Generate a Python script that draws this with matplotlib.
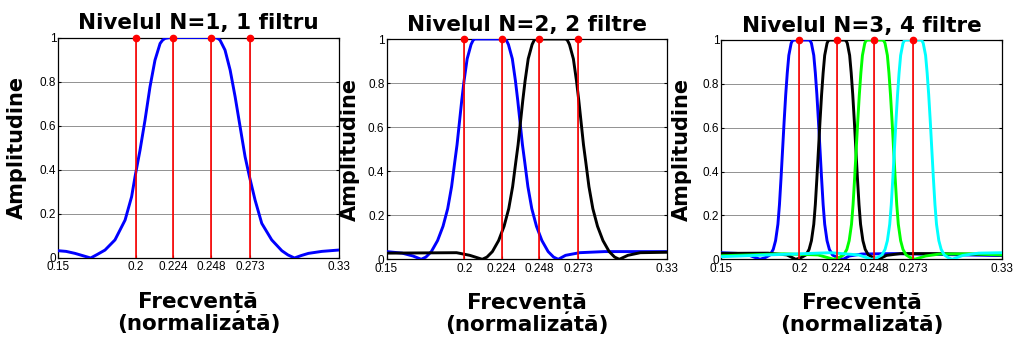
import matplotlib
matplotlib.use("Agg")
import matplotlib.pyplot as plt

# ---------------- data ----------------
titles = ["Nivelul N=1, 1 filtru", "Nivelul N=2, 2 filtre", "Nivelul N=3, 4 filtre"]
x_ticks = [0.15, 0.2, 0.224, 0.248, 0.273, 0.33]
x_tick_labels = ["0.15", "0.2", "0.224", "0.248", "0.273", "0.33"]
y_ticks = [0, 0.2, 0.4, 0.6, 0.8, 1.0]
y_tick_labels = ["0", "0.2", "0.4", "0.6", "0.8", "1"]
center_freqs = [0.2, 0.224, 0.248, 0.273]
center_amps = [1, 1, 1, 1]

# Level 1 - single filter (blue)
p1_blue_x = [0.150, 0.155, 0.1607, 0.166, 0.1708, 0.175, 0.180, 0.1864, 0.1929, 0.1971,
             0.1993, 0.2025, 0.2057, 0.2089, 0.2121, 0.2154, 0.2170, 0.2186, 0.2218, 0.2507,
             0.2525, 0.2539, 0.2571, 0.2604, 0.2636, 0.2668, 0.2700, 0.2728, 0.2764, 0.2807,
             0.2871, 0.2936, 0.2975, 0.3017, 0.3060, 0.3107, 0.3193, 0.330]
p1_blue_y = [0.033, 0.030, 0.021, 0.010, 0.000, 0.016, 0.036, 0.082, 0.172, 0.278,
             0.369, 0.489, 0.625, 0.776, 0.897, 0.973, 0.988, 0.996, 1.000, 1.000,
             0.996, 0.988, 0.943, 0.852, 0.731, 0.595, 0.459, 0.369, 0.263, 0.157,
             0.082, 0.033, 0.014, 0.000, 0.011, 0.021, 0.030, 0.036]

# Level 2 - two filters (blue, black)
p2_blue_x = [0.150, 0.160, 0.167, 0.1723, 0.1753, 0.1788, 0.1828, 0.1863, 0.1893, 0.1918,
             0.1938, 0.1953, 0.1968, 0.1983, 0.1998, 0.2018, 0.2043, 0.2056, 0.2067, 0.2259,
             0.2270, 0.2283, 0.2308, 0.2328, 0.2343, 0.2358, 0.2373, 0.2388, 0.2408, 0.2433,
             0.2463, 0.2498, 0.2538, 0.2573, 0.2603, 0.265, 0.274, 0.290, 0.330]
p2_blue_y = [0.035, 0.028, 0.015, 0.000, 0.010, 0.035, 0.085, 0.150, 0.230, 0.330,
             0.440, 0.520, 0.620, 0.720, 0.810, 0.910, 0.975, 0.994, 1.000, 1.000,
             0.994, 0.975, 0.910, 0.810, 0.720, 0.620, 0.520, 0.440, 0.330, 0.230,
             0.150, 0.085, 0.035, 0.010, 0.000, 0.018, 0.030, 0.035, 0.035]
p2_black_x = [0.150, 0.195, 0.2035, 0.2115, 0.2145, 0.218, 0.222, 0.2255, 0.2285, 0.231,
              0.233, 0.2345, 0.236, 0.2375, 0.239, 0.241, 0.2435, 0.2448, 0.2459, 0.2651,
              0.2662, 0.2675, 0.270, 0.272, 0.2735, 0.275, 0.2765, 0.278, 0.280, 0.2825,
              0.2855, 0.289, 0.293, 0.2965, 0.2995, 0.305, 0.313, 0.330]
p2_black_y = [0.028, 0.030, 0.018, 0.000, 0.010, 0.035, 0.085, 0.150, 0.230, 0.330,
              0.440, 0.520, 0.620, 0.720, 0.810, 0.910, 0.975, 0.994, 1.000, 1.000,
              0.994, 0.975, 0.910, 0.810, 0.720, 0.620, 0.520, 0.440, 0.330, 0.230,
              0.150, 0.085, 0.035, 0.010, 0.000, 0.018, 0.030, 0.032]

# Level 3 - four filters (blue, black, green, cyan)
p3_blue_x = [0.150, 0.160, 0.168, 0.1748, 0.1783, 0.1813, 0.1833, 0.1848, 0.1863, 0.1873,
             0.1883, 0.1893, 0.1903, 0.1913, 0.1923, 0.1933, 0.1948, 0.1956, 0.1963, 0.2063,
             0.2070, 0.2078, 0.2093, 0.2103, 0.2113, 0.2123, 0.2133, 0.2143, 0.2153, 0.2163,
             0.2178, 0.2193, 0.2213, 0.2243, 0.2282, 0.232, 0.240, 0.260, 0.290, 0.330]
p3_blue_y = [0.030, 0.027, 0.018, 0.000, 0.008, 0.020, 0.045, 0.085, 0.160, 0.250,
             0.370, 0.500, 0.630, 0.750, 0.850, 0.930, 0.985, 0.997, 1.000, 1.000,
             0.997, 0.985, 0.930, 0.850, 0.750, 0.630, 0.500, 0.370, 0.250, 0.160,
             0.085, 0.045, 0.020, 0.008, 0.000, 0.015, 0.024, 0.026, 0.022, 0.017]
p3_black_x = [0.150, 0.180, 0.192, 0.1978, 0.2013, 0.2043, 0.2063, 0.2078, 0.2093, 0.2103,
              0.2113, 0.2123, 0.2133, 0.2143, 0.2153, 0.2163, 0.2178, 0.2186, 0.2193, 0.2293,
              0.2300, 0.2308, 0.2323, 0.2333, 0.2343, 0.2353, 0.2363, 0.2373, 0.2383, 0.2393,
              0.2408, 0.2423, 0.2443, 0.2473, 0.2508, 0.256, 0.265, 0.290, 0.330]
p3_black_y = [0.027, 0.028, 0.020, 0.000, 0.008, 0.020, 0.045, 0.085, 0.160, 0.250,
              0.370, 0.500, 0.630, 0.750, 0.850, 0.930, 0.985, 0.997, 1.000, 1.000,
              0.997, 0.985, 0.930, 0.850, 0.750, 0.630, 0.500, 0.370, 0.250, 0.160,
              0.085, 0.045, 0.020, 0.008, 0.000, 0.018, 0.026, 0.026, 0.020]
p3_green_x = [0.150, 0.190, 0.212, 0.222, 0.2255, 0.2285, 0.2305, 0.2320, 0.2335, 0.2345,
              0.2355, 0.2365, 0.2375, 0.2385, 0.2395, 0.2405, 0.2420, 0.2428, 0.2435, 0.2535,
              0.2542, 0.2550, 0.2565, 0.2575, 0.2585, 0.2595, 0.2605, 0.2615, 0.2625, 0.2635,
              0.2650, 0.2665, 0.2685, 0.2712, 0.2740, 0.281, 0.290, 0.310, 0.330]
p3_green_y = [0.016, 0.025, 0.020, 0.000, 0.008, 0.020, 0.045, 0.085, 0.160, 0.250,
              0.370, 0.500, 0.630, 0.750, 0.850, 0.930, 0.985, 0.997, 1.000, 1.000,
              0.997, 0.985, 0.930, 0.850, 0.750, 0.630, 0.500, 0.370, 0.250, 0.160,
              0.085, 0.045, 0.020, 0.008, 0.000, 0.015, 0.024, 0.025, 0.020]
p3_cyan_x = [0.150, 0.180, 0.220, 0.238, 0.2465, 0.2500, 0.2530, 0.2550, 0.2565, 0.2580,
             0.2590, 0.2600, 0.2610, 0.2620, 0.2630, 0.2640, 0.2650, 0.2665, 0.2673, 0.2680,
             0.2780, 0.2787, 0.2795, 0.2810, 0.2820, 0.2830, 0.2840, 0.2850, 0.2860, 0.2870,
             0.2880, 0.2895, 0.2910, 0.2930, 0.2955, 0.2980, 0.305, 0.315, 0.330]
p3_cyan_y = [0.012, 0.020, 0.030, 0.020, 0.000, 0.008, 0.020, 0.045, 0.085, 0.160,
             0.250, 0.370, 0.500, 0.630, 0.750, 0.850, 0.930, 0.985, 0.997, 1.000,
             1.000, 0.997, 0.985, 0.930, 0.850, 0.750, 0.630, 0.500, 0.370, 0.250,
             0.160, 0.085, 0.045, 0.020, 0.008, 0.000, 0.018, 0.028, 0.030]

panels = [
    [(p1_blue_x, p1_blue_y, "#0000ff")],
    [(p2_blue_x, p2_blue_y, "#0000ff"), (p2_black_x, p2_black_y, "#000000")],
    [(p3_blue_x, p3_blue_y, "#0000ff"), (p3_black_x, p3_black_y, "#000000"),
     (p3_green_x, p3_green_y, "#00ff00"), (p3_cyan_x, p3_cyan_y, "#00ffff")],
]

# ---------------- figure ----------------
W, H = 1013, 340
fig = plt.figure(figsize=(W / 100, H / 100), dpi=100)

axes_px = [(58.3, 37.5, 338.5, 258.0),
           (386.5, 39.0, 666.8, 259.3),
           (721.3, 40.0, 1002.0, 259.3)]
ylabel_pads = [9, 6, 8]

tick_font = ["Liberation Sans", "DejaVu Sans"]
bold_font = ["DejaVu Sans"]

for i, (l, t, r, b) in enumerate(axes_px):
    ax = fig.add_axes([l / W, 1 - b / H, (r - l) / W, (b - t) / H])
    for xs, ys, col in panels[i]:
        ax.plot(xs, ys, color=col, lw=2.1, solid_joinstyle="round", zorder=3)
    ax.vlines(center_freqs, 0, center_amps, color="#ff0000", lw=1.2, zorder=4)
    ax.plot(center_freqs, center_amps, "o", color="#ff0000", ms=4.5, zorder=5,
            clip_on=False)
    ax.set_xlim(0.15, 0.33)
    ax.set_ylim(0, 1)
    ax.set_xticks(x_ticks)
    ax.set_xticklabels(x_tick_labels, family=tick_font, fontsize=8.5)
    ax.set_yticks(y_ticks)
    ax.set_yticklabels(y_tick_labels, family=tick_font, fontsize=8.5)
    ax.tick_params(direction="in", length=2.5, width=0.8, top=True, right=True)
    ax.tick_params(axis="x", pad=2.5)
    ax.tick_params(axis="y", pad=1.5)
    ax.grid(True, color="0.5", lw=0.6)
    ax.set_axisbelow(True)
    for s in ax.spines.values():
        s.set_linewidth(0.9)
    ax.set_title(titles[i], family=bold_font, fontweight="bold", fontsize=15.5, pad=6)
    ax.set_ylabel("Amplitudine", family=bold_font, fontweight="bold", fontsize=15,
                  labelpad=ylabel_pads[i])
    ax.set_xlabel("Frecvență\n(normalizată)", family=bold_font, fontweight="bold",
                  fontsize=15.5, labelpad=13, linespacing=1.1)

fig.savefig("out.png", dpi=100)
